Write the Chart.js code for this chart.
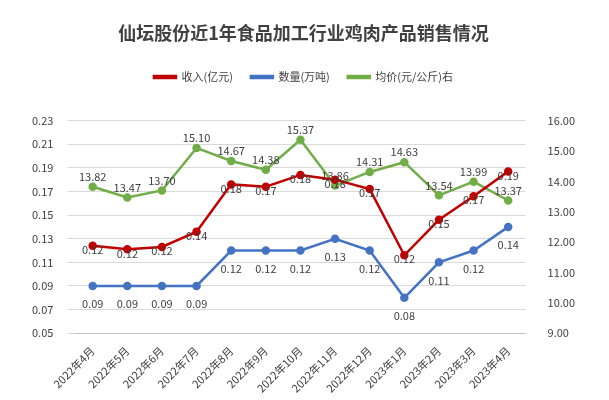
<!DOCTYPE html>
<html><head><meta charset="utf-8">
<script src="https://cdn.jsdelivr.net/npm/chart.js@4"></script>
<style>body{margin:0;background:#fff}#wrap{width:609px;height:400px}</style>
</head><body><div id="wrap"><canvas id="c"></canvas></div>
<script>
const months = ['2022年4月','2022年5月','2022年6月','2022年7月','2022年8月','2022年9月','2022年10月','2022年11月','2022年12月','2023年1月','2023年2月','2023年3月','2023年4月'];
const revenue = [0.124,0.121,0.123,0.136,0.176,0.174,0.184,0.180,0.172,0.116,0.146,0.166,0.187];
const revenueLabels = ['0.12','0.12','0.12','0.14','0.18','0.17','0.18','0.18','0.17','0.12','0.15','0.17','0.19'];
const quantity = [0.09,0.09,0.09,0.09,0.12,0.12,0.12,0.13,0.12,0.08,0.11,0.12,0.14];
const price = [13.82,13.47,13.70,15.10,14.67,14.38,15.37,13.86,14.31,14.63,13.54,13.99,13.37];

const labelPlugin = {
  id: 'labels',
  afterDatasetsDraw(chart) {
    const ctx = chart.ctx;
    ctx.save();
    ctx.font = '11px "Noto Sans CJK SC", sans-serif';
    ctx.fillStyle = '#404040';
    ctx.textAlign = 'center';
    chart.data.datasets.forEach((ds, i) => {
      chart.getDatasetMeta(i).data.forEach((pt, j) => {
        let txt, dy;
        if (i === 0) { txt = revenueLabels[j]; dy = 4; }
        else if (i === 1) { txt = quantity[j].toFixed(2); dy = 18; }
        else { txt = price[j].toFixed(2); dy = -10; }
        ctx.fillText(txt, pt.x, pt.y + dy);
      });
    });
    ctx.restore();
  }
};

const legendGap = { id: 'legendGap', beforeInit(chart) {
  const orig = chart.legend.fit;
  chart.legend.fit = function () { orig.bind(chart.legend)(); this.height += 28; };
} };

const font = { family: '"Noto Sans CJK SC", sans-serif', size: 11 };
new Chart(document.getElementById('c'), {
  type: 'line',
  data: {
    labels: months,
    datasets: [
      { label: '收入(亿元)', data: revenue, borderColor: '#c00000', backgroundColor: '#c00000', borderWidth: 2.5, pointRadius: 3, yAxisID: 'y' },
      { label: '数量(万吨)', data: quantity, borderColor: '#4472c4', backgroundColor: '#4472c4', borderWidth: 2.5, pointRadius: 3, yAxisID: 'y' },
      { label: '均价(元/公斤)右', data: price, borderColor: '#70ad47', backgroundColor: '#70ad47', borderWidth: 2.5, pointRadius: 3, yAxisID: 'y1' }
    ]
  },
  options: {
    responsive: true, maintainAspectRatio: false, animation: false,
    layout: { padding: { left: 18, right: 20, top: 10, bottom: 2 } },
    plugins: {
      title: { display: true, text: '仙坛股份近1年食品加工行业鸡肉产品销售情况', color: '#404040', font: { family: font.family, size: 18, weight: 'bold' }, padding: { top: 12, bottom: 10 } },
      legend: { labels: { color: '#404040', font: font, boxWidth: 22, boxHeight: 2, padding: 18 } },
      tooltip: { enabled: false }
    },
    scales: {
      x: { offset: true, grid: { display: false }, ticks: { color: '#404040', font: font, maxRotation: 45, minRotation: 45 } },
      y: { position: 'left', min: 0.05, max: 0.23, ticks: { stepSize: 0.02, color: '#404040', font: font, padding: 14, callback: v => v.toFixed(2) }, grid: { color: '#d9d9d9' }, border: { display: false } },
      y1: { position: 'right', min: 9, max: 16, ticks: { stepSize: 1, color: '#404040', font: font, padding: 14, callback: v => v.toFixed(2) }, grid: { display: false }, border: { display: false } }
    }
  },
  plugins: [labelPlugin, legendGap]
});
</script></body></html>
